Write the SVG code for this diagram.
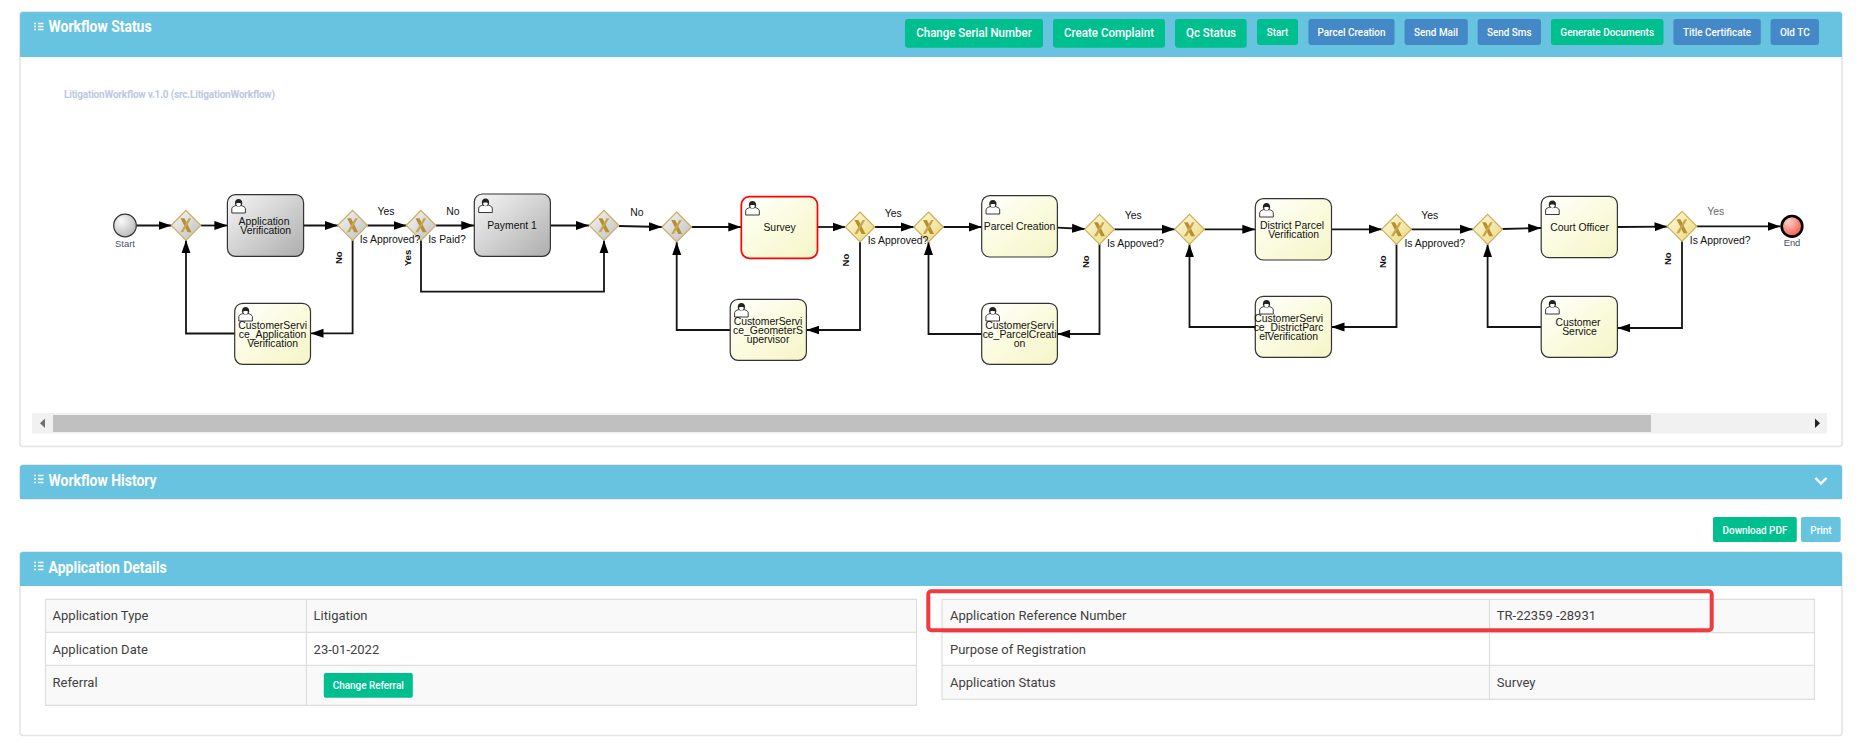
<svg xmlns="http://www.w3.org/2000/svg" xmlns:xlink="http://www.w3.org/1999/xlink" width="1858" height="748" viewBox="0 0 1858 748">
<style>
text{font-family:Roboto,"Liberation Sans",sans-serif}
.panel{fill:#fff;stroke:#e3e3e8;stroke-width:1.5}
.head{fill:#67c3df}
.title{font-size:16px;font-weight:700;fill:#fff}
.bt{fill:#00bf8f}.bb{fill:#4488c8}.bp{fill:#67c4df}
.bl{font-size:13.5px;font-weight:500;fill:#fff;text-anchor:middle}
.bs{font-size:11px;font-weight:500;fill:#fff;text-anchor:middle}
.grid{stroke:#dedede;stroke-width:1.2}
.cell{font-size:13px;fill:#3f3f3f}
.lab,.rot,.task text{font-family:"Liberation Sans",Arial,sans-serif;font-size:10.4px;fill:#111}
.task text{text-anchor:middle}
.lab{text-anchor:middle}
.rot{text-anchor:middle;font-weight:700;font-size:9.6px}
.ev{font-size:9.4px;fill:#4a4f66}
.tg{fill:url(#gy);stroke:#333;stroke-width:1.2}
.tw{fill:url(#yw);stroke:#333;stroke-width:1.2}
.c{fill:none;stroke:#141414;stroke-width:1.8;marker-end:url(#arr)}
.icon{fill:none;stroke:#fff;stroke-width:1.6}
</style>
<defs>
<linearGradient id="gy" x1="0" y1="0" x2="1" y2="1"><stop offset="0" stop-color="#f6f6f6"/><stop offset="1" stop-color="#adadad"/></linearGradient>
<linearGradient id="yw" x1="0" y1="0" x2="1" y2="1"><stop offset="0" stop-color="#ffffff"/><stop offset=".5" stop-color="#fbfbdf"/><stop offset="1" stop-color="#f5f5c8"/></linearGradient>
<linearGradient id="gg" x1="0" y1="0" x2="1" y2="1"><stop offset="0" stop-color="#f8f8f8"/><stop offset="1" stop-color="#bdbdbd"/></linearGradient>
<linearGradient id="gw" x1="0" y1="0" x2="1" y2="1"><stop offset="0" stop-color="#fffbe0"/><stop offset="1" stop-color="#ecd77a"/></linearGradient>
<radialGradient id="st" cx=".35" cy=".3" r=".8"><stop offset="0" stop-color="#fafafa"/><stop offset="1" stop-color="#b4b4b4"/></radialGradient>
<radialGradient id="en" cx=".35" cy=".3" r=".8"><stop offset="0" stop-color="#ffd0c8"/><stop offset="1" stop-color="#f0503f"/></radialGradient>
<marker id="arr" markerUnits="userSpaceOnUse" markerWidth="13" markerHeight="10" refX="13" refY="5" orient="auto"><path d="M0 .5L13 5L0 9.5Z" fill="#000"/></marker>
<g id="x"><path d="M-5.5-7H-1.6L5.5 7H1.6Z" fill="#b6902f"/><path d="M2.6-7H5.2L-2.8 7H-5.6Z" fill="#c7a650"/></g>
<g id="gatey"><path d="M0-15L14.8 0L0 15L-14.8 0Z" fill="url(#gw)" stroke="#cbae5e" stroke-width="1.2"/><use href="#x"/></g>
<g id="gateg"><path d="M0-15L14.8 0L0 15L-14.8 0Z" fill="url(#gg)" stroke="#c9ac5c" stroke-width="1.2"/><use href="#x"/></g>
<g id="person"><path d="M-6.8 7V2.6C-6.6.8-4.4.2-2.8-.4H2.8C4.4.2 6.6.8 6.8 2.6V7Z" fill="#fff" stroke="#222" stroke-width=".9"/><path d="M-3.6-2.6C-3.8-5.4-2.4-7 0-7S3.8-5.4 3.6-2.6L3-.4C1.6 1-1.6 1-3-.4Z" fill="#222"/><path d="M-2.4-2.6C-1-3.2 1-3.2 2.4-2.6C2.4-.6 1 .4 0 .4S-2.4-.6-2.4-2.6Z" fill="#fff"/></g>
</defs>
<rect width="1858" height="748" fill="#fff"/>

<g id="panel-status">
<rect class="panel" x="20" y="12" width="1822" height="434.5" rx="3"/>
<path class="head" d="M20 15a3 3 0 0 1 3-3H1839a3 3 0 0 1 3 3V57H20Z"/>
<path class="icon" d="M38 23.500H43.500M38 26.500H43.500M38 29.500H43.500M34 23.500H36M34 26.500H36M34 29.500H36"/>
<text class="title" x="48.600" y="32" textLength="103" lengthAdjust="spacingAndGlyphs">Workflow Status</text>
<rect class="bt" x="905" y="19" width="138" height="28.700" rx="3"/><text class="bl" x="974" y="37" textLength="115.500" lengthAdjust="spacingAndGlyphs">Change Serial Number</text>
<rect class="bt" x="1053" y="19" width="112" height="28.700" rx="3"/><text class="bl" x="1109" y="37" textLength="90" lengthAdjust="spacingAndGlyphs">Create Complaint</text>
<rect class="bt" x="1175" y="19" width="71.700" height="28.700" rx="3"/><text class="bl" x="1211" y="37" textLength="50" lengthAdjust="spacingAndGlyphs">Qc Status</text>
<rect class="bt" x="1257" y="19" width="41" height="26" rx="3"/><text class="bs" x="1277.500" y="36" textLength="21.400" lengthAdjust="spacingAndGlyphs">Start</text>
<rect class="bb" x="1308.400" y="19" width="86.200" height="26" rx="3"/><text class="bs" x="1351.500" y="36" textLength="68" lengthAdjust="spacingAndGlyphs">Parcel Creation</text>
<rect class="bb" x="1404.500" y="19" width="63.300" height="26" rx="3"/><text class="bs" x="1436" y="36" textLength="44" lengthAdjust="spacingAndGlyphs">Send Mail</text>
<rect class="bb" x="1477.600" y="19" width="63.400" height="26" rx="3"/><text class="bs" x="1509.300" y="36" textLength="44.700" lengthAdjust="spacingAndGlyphs">Send Sms</text>
<rect class="bt" x="1551" y="19" width="112.500" height="26" rx="3"/><text class="bs" x="1607.200" y="36" textLength="93.700" lengthAdjust="spacingAndGlyphs">Generate Documents</text>
<rect class="bb" x="1673.400" y="19" width="87.400" height="26" rx="3"/><text class="bs" x="1717" y="36" textLength="68" lengthAdjust="spacingAndGlyphs">Title Certificate</text>
<rect class="bb" x="1770.600" y="19" width="48.400" height="26" rx="3"/><text class="bs" x="1794.800" y="36" textLength="29.700" lengthAdjust="spacingAndGlyphs">Old TC</text>
<text x="64" y="98" font-family="Liberation Sans" font-size="10px" font-weight="700" fill="#bcc8e0" textLength="211">LitigationWorkflow v.1.0 (src.LitigationWorkflow)</text>
<rect x="32" y="413" width="1795" height="20.500" fill="#f1f1f1"/>
<rect x="53" y="415" width="1598" height="17" fill="#c0c0c0"/>
<path d="M45 418.500V428L40 423.200Z" fill="#707070"/>
<path d="M1815 418.500V428L1820 423.200Z" fill="#222"/>
</g>

<g id="connectors">
<path class="c" d="M136.500 225.500H171.500"/>
<path class="c" d="M200.800 225.500H227.400"/>
<path class="c" d="M303.600 225.500H338"/>
<path class="c" d="M367.400 225.500H406.500"/>
<path class="c" d="M435.800 225.500H474.300"/>
<path class="c" d="M550.400 225.500H589"/>
<path class="c" d="M618.800 226L662 227"/>
<path class="c" d="M691.500 227H741.300"/>
<path class="c" d="M817.500 227H845.500"/>
<path class="c" d="M874.800 227H914"/>
<path class="c" d="M943.300 227H981.700"/>
<path class="c" d="M1057.400 227.600L1085 229"/>
<path class="c" d="M1114.300 229.300H1175"/>
<path class="c" d="M1204.300 229.300H1255.300"/>
<path class="c" d="M1331.500 229.300H1382"/>
<path class="c" d="M1411.300 229.300H1473"/>
<path class="c" d="M1502.400 229L1541.200 228"/>
<path class="c" d="M1617.400 227L1667.500 226.600"/>
<path class="c" d="M1696.800 226.300H1780.500"/>
<path class="c" d="M352.600 240V333.300H310.500"/>
<path class="c" d="M234.700 333.500H186V240.200"/>
<path class="c" d="M421 240V291.700H604V240.300"/>
<path class="c" d="M730.200 330H676.700V242"/>
<path class="c" d="M860 242V330H806.400"/>
<path class="c" d="M981.700 334H928.500V242"/>
<path class="c" d="M1099.500 244V334H1057.400"/>
<path class="c" d="M1255.300 327H1189.500V244.300"/>
<path class="c" d="M1396.500 244.300V327H1331.500"/>
<path class="c" d="M1541.200 327H1487.600V244.300"/>
<path class="c" d="M1682 241.300V328H1617.400"/>
</g>

<g id="start"><circle cx="125" cy="225.500" r="11.300" fill="url(#st)" stroke="#333" stroke-width="1.2"/><text class="lab ev" x="125" y="247">Start</text></g>
<g id="gw1"><use href="#gateg" x="186" y="225.300"/></g>
<g id="task-app" class="task"><rect class="tg" x="227.400" y="194.700" width="76.200" height="61.600" rx="8"/><use href="#person" x="238.600" y="206"/><text x="264" y="225">Application</text><text x="265.700" y="234">Verification</text></g>
<g id="gw2"><use href="#gateg" x="352.600" y="225.300"/></g>
<g id="gw3"><use href="#gateg" x="421" y="225.300"/></g>
<g id="task-pay" class="task"><rect class="tg" x="474.300" y="194" width="76.100" height="62.300" rx="8"/><use href="#person" x="485.500" y="205.500"/><text x="512" y="228.700">Payment 1</text></g>
<g id="gw4"><use href="#gateg" x="604" y="225.300"/></g>
<g id="gw5"><use href="#gateg" x="676.700" y="227"/></g>
<g id="task-cs-app" class="task"><rect class="tw" x="234.700" y="303.300" width="75.800" height="61" rx="8"/><use href="#person" x="245.600" y="314"/><text x="272.600" y="329">CustomerServi</text><text x="272.600" y="338">ce_Application</text><text x="272.600" y="346.700">Verification</text></g>
<g id="task-survey" class="task"><rect x="741.300" y="196.700" width="76.200" height="61.600" rx="8" fill="url(#yw)" stroke="#f00" stroke-width="1.700"/><use href="#person" x="752.500" y="208"/><text x="779.600" y="231">Survey</text></g>
<g id="gw6"><use href="#gatey" x="860" y="227"/></g>
<g id="gw7"><use href="#gatey" x="928.500" y="227"/></g>
<g id="task-parcel" class="task"><rect class="tw" x="981.700" y="195.700" width="75.700" height="61.300" rx="8"/><use href="#person" x="992.900" y="207"/><text x="1019.600" y="230">Parcel Creation</text></g>
<g id="gw8"><use href="#gatey" x="1099.500" y="229.300"/></g>
<g id="gw9"><use href="#gatey" x="1189.500" y="229.300"/></g>
<g id="task-cs-geo" class="task"><rect class="tw" x="730.200" y="299.300" width="76.200" height="61" rx="8"/><use href="#person" x="741.400" y="310"/><text x="768" y="325">CustomerServi</text><text x="768" y="333.700">ce_GeometerS</text><text x="768" y="343">upervisor</text></g>
<g id="task-cs-parcel" class="task"><rect class="tw" x="981.700" y="303.300" width="75.700" height="61" rx="8"/><use href="#person" x="992.700" y="314"/><text x="1019.600" y="329">CustomerServi</text><text x="1019.600" y="338">ce_ParcelCreati</text><text x="1019.600" y="347">on</text></g>
<g id="task-district" class="task"><rect class="tw" x="1255.300" y="198.700" width="76.200" height="61.300" rx="8"/><use href="#person" x="1266.500" y="210"/><text x="1292" y="228.700">District Parcel</text><text x="1293.600" y="237.700">Verification</text></g>
<g id="gw10"><use href="#gatey" x="1396.500" y="229.300"/></g>
<g id="gw11"><use href="#gatey" x="1487.600" y="229.300"/></g>
<g id="task-cs-district" class="task"><rect class="tw" x="1255.300" y="296.300" width="76.200" height="61" rx="8"/><use href="#person" x="1266.500" y="307"/><text x="1288.600" y="321.700">CustomerServi</text><text x="1288.600" y="330.700">ce_DistrictParc</text><text x="1288.600" y="339.700">elVerification</text></g>
<g id="task-court" class="task"><rect class="tw" x="1541.200" y="196.300" width="76.200" height="61.400" rx="8"/><use href="#person" x="1552.400" y="207.500"/><text x="1579.500" y="230.700">Court Officer</text></g>
<g id="gw12"><use href="#gatey" x="1682" y="226.300"/></g>
<g id="task-cs" class="task"><rect class="tw" x="1541.200" y="296.300" width="76.200" height="61" rx="8"/><use href="#person" x="1552.400" y="307"/><text x="1578" y="325.700">Customer</text><text x="1579.500" y="334.700">Service</text></g>
<g id="end"><circle cx="1792" cy="226.300" r="10.300" fill="url(#en)" stroke="#000" stroke-width="2.600"/><text class="lab ev" x="1792" y="245.700">End</text></g>

<g id="flow-labels">
<text class="lab" x="385.900" y="215">Yes</text>
<text class="lab" x="390" y="243">Is Approved?</text>
<text class="lab" x="447" y="243">Is Paid?</text>
<text class="lab" x="452.900" y="215">No</text>
<text class="lab" x="637" y="216">No</text>
<text class="lab" x="893.300" y="216.700">Yes</text>
<text class="lab" x="898" y="244">Is Approved?</text>
<text class="lab" x="1133.200" y="218.700">Yes</text>
<text class="lab" x="1135.500" y="246.700">Is Appoved?</text>
<text class="lab" x="1429.800" y="218.700">Yes</text>
<text class="lab" x="1434.800" y="246.700">Is Approved?</text>
<text class="lab" x="1715.700" y="215.300" style="fill:#666">Yes</text>
<text class="lab" x="1720.200" y="243.700">Is Approved?</text>
<text class="rot" transform="translate(342 257.700) rotate(-90)">No</text>
<text class="rot" transform="translate(410.500 258) rotate(-90)">Yes</text>
<text class="rot" transform="translate(849 260) rotate(-90)">No</text>
<text class="rot" transform="translate(1089 261.700) rotate(-90)">No</text>
<text class="rot" transform="translate(1386 261.700) rotate(-90)">No</text>
<text class="rot" transform="translate(1671 258.700) rotate(-90)">No</text>
</g>

<g id="panel-history">
<rect class="panel" x="20" y="465" width="1822" height="34" rx="3"/>
<path class="head" d="M20 468a3 3 0 0 1 3-3H1839a3 3 0 0 1 3 3V499H20Z"/>
<path class="icon" d="M38 475.500H43.500M38 479H43.500M38 482.500H43.500M34 475.500H36M34 479H36M34 482.500H36"/>
<text class="title" x="48.600" y="486" textLength="108" lengthAdjust="spacingAndGlyphs">Workflow History</text>
<path d="M1815.500 478L1821 483.500L1826.500 478" fill="none" stroke="#fff" stroke-width="2.400"/>
</g>

<g id="pdf-buttons">
<rect class="bt" x="1713" y="517" width="83.800" height="25" rx="2"/><text class="bs" x="1755" y="533.500" textLength="64.800" lengthAdjust="spacingAndGlyphs">Download PDF</text>
<rect class="bp" x="1801" y="517" width="39.700" height="25" rx="2"/><text class="bs" x="1821" y="533.500" textLength="21.400" lengthAdjust="spacingAndGlyphs">Print</text>
</g>

<g id="panel-details">
<rect class="panel" x="20" y="552" width="1822" height="183.500" rx="3"/>
<path class="head" d="M20 555a3 3 0 0 1 3-3H1839a3 3 0 0 1 3 3V586H20Z"/>
<path class="icon" d="M38 562.500H43.500M38 566H43.500M38 569.500H43.500M34 562.500H36M34 566H36M34 569.500H36"/>
<text class="title" x="48.600" y="573" textLength="118" lengthAdjust="spacingAndGlyphs">Application Details</text>
<g id="table-left">
<rect x="45.500" y="599.300" width="871" height="33" fill="#f9f9f9"/>
<rect x="45.500" y="665.300" width="871" height="40" fill="#f9f9f9"/>
<path class="grid" fill="none" d="M45.500 599.300H916.500V705.300H45.500ZM45.500 632.300H916.500M45.500 665.300H916.500M306.400 599.300V705.300"/>
<text class="cell" x="52.600" y="620">Application Type</text><text class="cell" x="313.600" y="620">Litigation</text>
<text class="cell" x="52.600" y="654">Application Date</text><text class="cell" x="313.600" y="654">23-01-2022</text>
<text class="cell" x="52.600" y="687">Referral</text>
<rect class="bt" x="323.800" y="673" width="89" height="24.700" rx="2"/><text class="bs" x="368.300" y="689" textLength="71" lengthAdjust="spacingAndGlyphs">Change Referral</text>
</g>
<g id="table-right">
<rect x="942" y="599.300" width="872.500" height="33.400" fill="#f9f9f9"/>
<rect x="942" y="665.300" width="872.500" height="34" fill="#f9f9f9"/>
<path class="grid" fill="none" d="M942 599.300H1814.500V699.300H942ZM942 632.700H1814.500M942 665.300H1814.500M1489.500 599.300V699.300"/>
<text class="cell" x="950" y="620">Application Reference Number</text><text class="cell" x="1496.800" y="620">TR-22359 -28931</text>
<text class="cell" x="950" y="654">Purpose of Registration</text>
<text class="cell" x="950" y="687">Application Status</text><text class="cell" x="1496.800" y="687">Survey</text>
</g>
</g>
<rect id="highlight" x="928.300" y="591.300" width="783.400" height="39" rx="3" fill="none" stroke="#ef3a3f" stroke-width="4"/>
</svg>
